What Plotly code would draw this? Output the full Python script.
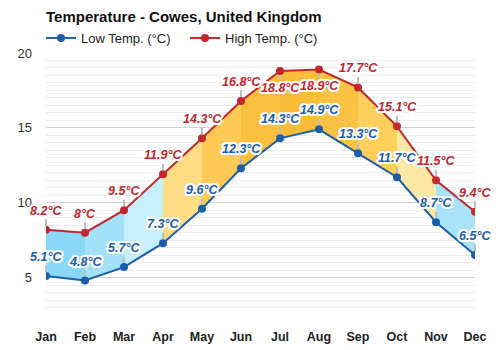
import plotly.graph_objects as go

months = ["Jan", "Feb", "Mar", "Apr", "May", "Jun", "Jul", "Aug", "Sep", "Oct", "Nov", "Dec"]
low_temp = [5.1, 4.8, 5.7, 7.3, 9.6, 12.3, 14.3, 14.9, 13.3, 11.7, 8.7, 6.5]
high_temp = [8.2, 8.0, 9.5, 11.9, 14.3, 16.8, 18.8, 18.9, 17.7, 15.1, 11.5, 9.4]
# colour of the band between consecutive months
band_colors = ["#8ad8f7", "#a2e1f9", "#c6eefc", "#fedc84", "#fdcb55", "#fbbf3f",
               "#fbbc3a", "#fbc243", "#fdd05c", "#fee8a6", "#a8e3fa"]
# high-temperature labels that sit below their marker
high_below = ["Jul", "Aug"]

LOW_COLOR = "#1b5ea8"
HIGH_COLOR = "#c1272d"
FONT = "Liberation Sans"

x = list(range(len(months)))
fig = go.Figure()

for i, col in enumerate(band_colors):
    fig.add_trace(go.Scatter(
        x=[x[i], x[i + 1], x[i + 1], x[i], x[i]],
        y=[low_temp[i], low_temp[i + 1], high_temp[i + 1], high_temp[i], low_temp[i]],
        fill="toself", fillcolor=col, mode="lines", line=dict(width=0),
        hoverinfo="skip", showlegend=False))

fig.add_trace(go.Scatter(x=x, y=low_temp, name="Low Temp. (°C)", mode="lines+markers",
                         line=dict(color=LOW_COLOR, width=2),
                         marker=dict(color=LOW_COLOR, size=8)))
fig.add_trace(go.Scatter(x=x, y=high_temp, name="High Temp. (°C)", mode="lines+markers",
                         line=dict(color=HIGH_COLOR, width=2),
                         marker=dict(color=HIGH_COLOR, size=8)))

# white outline around the value labels
offsets = [(1, 1), (-1, -1), (1, -1), (-1, 1), (0, 2), (0, -2), (2, 0), (-2, 0),
           (2, 1), (-2, 1), (2, -1), (-2, -1), (1, 2), (-1, 2), (1, -2), (-1, -2)]
halo = ", ".join(f"{dx}px {dy}px 0 #fff" for dx, dy in offsets)


def label(xi, v, color, offset):
    fig.add_annotation(
        x=xi, y=v, text=f"{v:g}°C", showarrow=True, ax=0, ay=offset,
        arrowhead=0, arrowwidth=2, arrowcolor="#bdbdbd", standoff=4,
        font=dict(family=FONT, size=12.5, color=color, weight="bold",
                  style="italic", shadow=halo))


for i, m in enumerate(months):
    label(x[i], low_temp[i], LOW_COLOR, -19)
    label(x[i], high_temp[i], HIGH_COLOR, 17 if m in high_below else -19)

fig.update_layout(
    width=500, height=350,
    margin=dict(l=45.7, r=25.3, t=53, b=34.5, autoexpand=False),
    paper_bgcolor="white", plot_bgcolor="white",
    font=dict(family=FONT, color="#222"),
    title=dict(text="<b>Temperature - Cowes, United Kingdom</b>",
               x=0, xref="paper", xanchor="left",
               y=1 - 17 / 350, yref="container", yanchor="middle",
               font=dict(family=FONT, size=15, color="#111")),
    legend=dict(orientation="h", x=0.082, xref="container", xanchor="left",
                y=1 - 38 / 350, yref="container", yanchor="middle",
                font=dict(family=FONT, size=13, color="#222"),
                entrywidth=99, itemwidth=30),
    xaxis=dict(range=[0, 11], tickvals=x, ticktext=[f"<b>{m}</b>" for m in months],
               showgrid=False, zeroline=False, showline=False, ticks="",
               tickfont=dict(family=FONT, size=12.5, color="#222"),
               ticklabelstandoff=12, fixedrange=True),
    yaxis=dict(range=[2.5, 20], tick0=0, dtick=5, showgrid=True,
               gridcolor="#d2d2d2", gridwidth=1, zeroline=False, showline=False,
               ticks="", tickfont=dict(family=FONT, size=13, color="#333"),
               ticklabelstandoff=13,
               minor=dict(dtick=0.5, showgrid=True, gridcolor="#ececec", gridwidth=1),
               fixedrange=True),
)

fig.write_html("out.html")
